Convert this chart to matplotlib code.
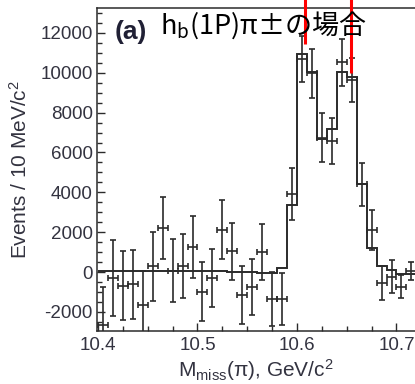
import matplotlib
matplotlib.use("Agg")
import matplotlib.pyplot as plt
from matplotlib.ticker import MultipleLocator

plt.rcParams['axes.unicode_minus'] = False
plt.rcParams['mathtext.fontset'] = 'custom'
plt.rcParams['mathtext.rm'] = 'Liberation Sans'
plt.rcParams['mathtext.it'] = 'Liberation Sans:italic'

# Data points (bin centres, GeV/c^2), events per 10 MeV, errors
mass = [10.405, 10.415, 10.425, 10.435, 10.445, 10.455, 10.465, 10.475,
        10.485, 10.495, 10.505, 10.515, 10.525, 10.535, 10.545, 10.555,
        10.565, 10.575, 10.585, 10.595, 10.605, 10.615, 10.625, 10.635,
        10.645, 10.655, 10.665, 10.675, 10.685, 10.695, 10.705, 10.715]
events = [-2650, -300, -690, -620, -1650, 300, 2210, 70,
          300, 1240, -980, -280, 2120, 1030, -1150, -750,
          1020, -1350, -1350, 3930, 10700, 9970, 6750, 6570,
          10520, 9650, 4400, 2100, -570, -230, -730, 50]
errors = [1900, 1900, 1740, 1750, 1700, 1730, 1560, 1580,
          1600, 1560, 1500, 1460, 1480, 1430, 1450, 1400,
          1400, 1370, 1300, 1300, 1150, 1240, 1220, 1170,
          1180, 1100, 1080, 1000, 850, 830, 560, 450]
half_bin = 0.005

# Fit histogram (step)
fit_edges = [10.40, 10.41, 10.42, 10.43, 10.44, 10.45, 10.46, 10.47, 10.48,
             10.49, 10.50, 10.51, 10.52, 10.53, 10.54, 10.55, 10.56, 10.57,
             10.58, 10.59, 10.60, 10.61, 10.62, 10.63, 10.64, 10.65, 10.66,
             10.67, 10.68, 10.69, 10.70, 10.71, 10.72]
fit_values = [60, 60, 60, 60, 60, 60, 60, 60, 60, 60, 60, 60, 60,
              10, 10, 10, -60, -60, 190, 3350, 10950, 10030, 6680, 7170,
              10060, 9800, 4430, 1230, 300, 100, -110, -100]

# Red marker lines (Zb positions) and where they end
zb_mass = [10.608, 10.654]
zb_end = [11460, 10010]

xticks = [10.4, 10.5, 10.6, 10.7]
yticks = [-2000, 0, 2000, 4000, 6000, 8000, 10000, 12000]

W, H = 415, 384
fig = plt.figure(figsize=(W / 100, H / 100), dpi=100)
ax = fig.add_axes([97 / W, (H - 331) / H, (W - 97) / W, 323 / H])

ink = '#2b2b2b'
ax.stairs(fit_values, fit_edges, color=ink, lw=1.4, baseline=None)
ax.errorbar(mass, events, yerr=errors, xerr=half_bin, fmt='none',
            ecolor=ink, elinewidth=1.2, capsize=2.3, capthick=1.2)

ax.set_xlim(10.399, 10.399 + 318 / 995)
ax.set_ylim(-2960, 13250)

for x, ye in zip(zb_mass, zb_end):
    ax.plot([x, x], [ye, 13700], color='#ff0000', lw=2.2, clip_on=False,
            solid_capstyle='butt', zorder=5)

ax.set_xticks(xticks)
ax.set_xticklabels([f"{t:.1f}" for t in xticks])
ax.set_yticks(yticks)
ax.set_yticklabels([str(t) for t in yticks])
ax.xaxis.set_minor_locator(MultipleLocator(0.025))
ax.yaxis.set_minor_locator(MultipleLocator(500))
ax.tick_params(which='both', direction='in', top=False, right=False,
               colors=ink, labelcolor='#333340', labelsize=13.5)
ax.tick_params(which='major', length=6, width=1.0)
ax.tick_params(which='minor', length=3.5, width=1.0)
for t in ax.get_xticklabels() + ax.get_yticklabels():
    t.set_family('Liberation Sans')
ax.tick_params(axis='x', pad=4)
ax.tick_params(axis='y', pad=3)

for s in ['left', 'bottom', 'top']:
    ax.spines[s].set_color(ink)
    ax.spines[s].set_linewidth(1.1)
ax.spines['right'].set_visible(False)

ax.set_ylabel('Events / 10 MeV/c$^2$', family='Liberation Sans',
              fontsize=15, color='#333340', labelpad=7)
ax.set_xlabel('M$_{\\rm miss}$(π), GeV/c$^2$', family='Liberation Sans',
              fontsize=15, color='#333340', labelpad=2.5)

ax.text(0.055, 0.926, '(a)', transform=ax.transAxes, fontsize=19,
        fontweight='bold', family='Liberation Sans', color='#202035',
        va='center', ha='left')
ax.text(0.198, 0.948, 'h$_\\mathregular{b}$(1P)π±の場合', transform=ax.transAxes,
        fontsize=19.5, family=['Noto Sans CJK JP', 'DejaVu Sans'],
        color='black', va='center', ha='left', zorder=6)

fig.savefig('out.png', dpi=100)
